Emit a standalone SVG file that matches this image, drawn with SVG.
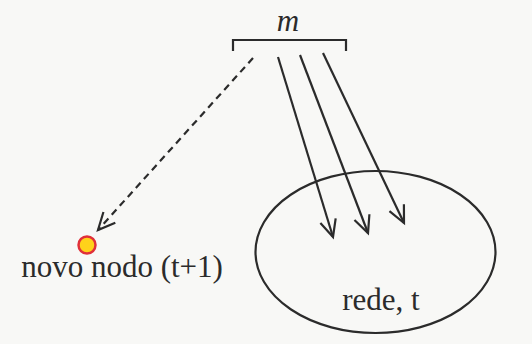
<svg xmlns="http://www.w3.org/2000/svg" width="532" height="344" viewBox="0 0 532 344">
<defs>
<marker id="open" markerUnits="userSpaceOnUse" markerWidth="22" markerHeight="22" viewBox="0 0 22 22" refX="19" refY="11" orient="auto">
<path d="M2,3 L19,11 L2,19" fill="none" stroke="#2b2b2b" stroke-width="2.2"/>
</marker>
</defs>
<style>
.ln{stroke:#2b2b2b;stroke-width:2.2;fill:none}
.lbl{font-family:"Liberation Serif","Times New Roman",serif;font-size:31px;fill:#2b2b2b}
</style>
<rect width="532" height="344" fill="#f8f8f6"/>
<g id="m-bracket">
<path class="ln" d="M233,51 V40 H346 V51"/>
<text class="lbl" x="288" y="31" text-anchor="middle" font-style="italic" font-size="29">m</text>
</g>
<g id="novo-nodo">
<circle cx="87" cy="245" r="8.5" fill="#ffd21a" stroke="#e0303a" stroke-width="2.5"/>
<text class="lbl" x="122" y="277" text-anchor="middle">novo nodo (t+1)</text>
</g>
<g id="rede">
<ellipse class="ln" cx="375.5" cy="252" rx="120" ry="81"/>
<text class="lbl" x="381" y="310" text-anchor="middle">rede, t</text>
</g>
<g id="connectors">
<line class="ln" x1="253" y1="58" x2="98" y2="230" stroke-dasharray="7,5" stroke-width="2.5" marker-end="url(#open)"/>
<line class="ln" x1="278" y1="57" x2="333" y2="237" marker-end="url(#open)"/>
<line class="ln" x1="300" y1="55" x2="368" y2="233" marker-end="url(#open)"/>
<line class="ln" x1="323" y1="53" x2="404" y2="223" marker-end="url(#open)"/>
</g>
</svg>
